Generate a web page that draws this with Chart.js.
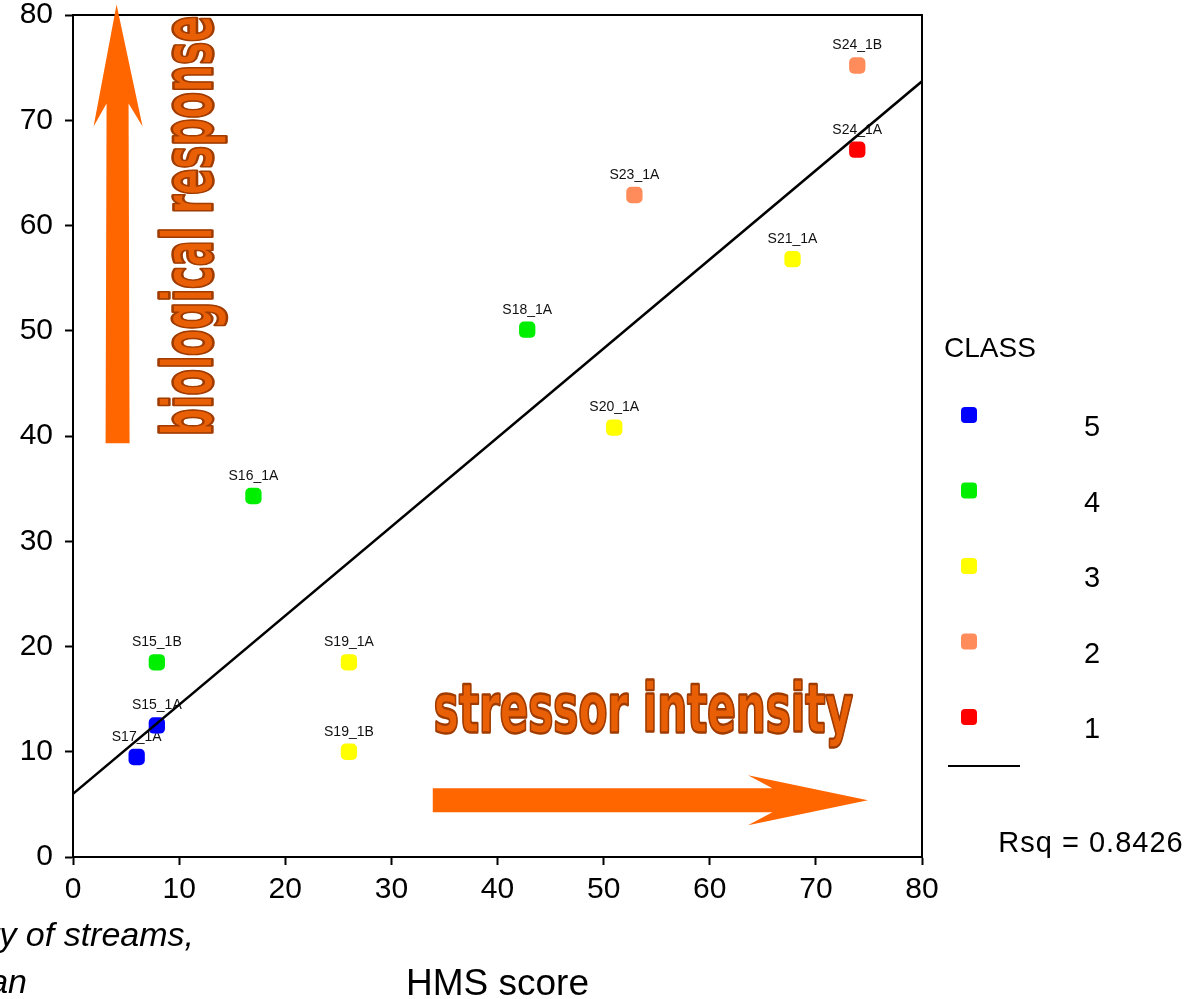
<!DOCTYPE html>
<html>
<head>
<meta charset="utf-8">
<script src="https://cdn.jsdelivr.net/npm/chart.js@4"></script>
<style>
  html, body { margin: 0; padding: 0; background: #fff; }
  #wrap { position: relative; width: 1198px; height: 999px; }
</style>
</head>
<body>
<div id="wrap"><canvas id="chart" width="1198" height="999"></canvas></div>
<script>
const FONT = '"Liberation Sans", Arial, sans-serif';

// Sites: HMS score vs biological response, grouped by CLASS
const siteNames = ['S17_1A', 'S15_1A', 'S15_1B', 'S16_1A', 'S19_1A', 'S19_1B', 'S18_1A', 'S20_1A', 'S23_1A', 'S21_1A', 'S24_1B', 'S24_1A'];
const hmsScore  = [6, 7.9, 7.9, 17, 26, 26, 42.8, 51, 52.9, 67.8, 73.9, 73.9];
const bioValue  = [9.5, 12.5, 18.5, 34.3, 18.5, 10, 50.1, 40.8, 62.9, 56.8, 75.2, 67.2];
const siteClass = [5, 5, 4, 4, 3, 3, 4, 3, 2, 3, 2, 1];

const classes = [5, 4, 3, 2, 1];
const classColors = ['#0000ff', '#00ee00', '#ffff00', '#ff8c5a', '#ff0000'];

// fitted line endpoints
const fitX = [0, 80];
const fitY = [6.0, 73.7];
const rsq = '0.8426';

const xTicks = [0, 10, 20, 30, 40, 50, 60, 70, 80];
const yTicks = [0, 10, 20, 30, 40, 50, 60, 70, 80];

const datasets = classes.map((c, k) => ({
  type: 'scatter',
  label: String(c),
  order: 1,
  data: siteNames
    .map((n, i) => ({ x: hmsScore[i], y: bioValue[i], name: n, c: siteClass[i] }))
    .filter(p => p.c === c),
  backgroundColor: classColors[k],
  borderWidth: 0,
  pointStyle: 'rectRounded',
  pointRadius: 9.5,
  pointHoverRadius: 9.5
}));

datasets.push({
  type: 'line',
  label: 'fit',
  order: 0,
  data: fitX.map((x, i) => ({ x: x, y: fitY[i] })),
  borderColor: '#000',
  borderWidth: 2.5,
  pointRadius: 0,
  fill: false
});

// labels above the points
const pointLabels = {
  id: 'pointLabels',
  beforeDatasetsDraw(chart) {
    const ctx = chart.ctx;
    ctx.save();
    ctx.font = '14px ' + FONT;
    ctx.fillStyle = '#111';
    ctx.textAlign = 'center';
    ctx.textBaseline = 'middle';
    chart.data.datasets.forEach((ds, di) => {
      if (ds.type !== 'scatter') return;
      chart.getDatasetMeta(di).data.forEach((pt, i) => {
        ctx.fillText(ds.data[i].name, pt.x, pt.y - 20);
      });
    });
    ctx.restore();
  }
};

function drawWordArt(ctx, text, x, y, width, xHeight, angle) {
  ctx.save();
  ctx.translate(x, y);
  ctx.rotate(angle);
  ctx.font = 'bold 100px "DejaVu Sans", ' + FONT;
  const w = ctx.measureText(text).width;
  const sx = width / w;
  const sy = xHeight / 54.7;
  ctx.scale(sx, sy);
  const k = 1 / Math.sqrt(sx * sy);
  ctx.lineJoin = 'round';
  ctx.strokeStyle = '#a03c00';
  ctx.lineWidth = 2.6 * k;
  ctx.strokeText(text, 0, 0);
  ctx.fillStyle = '#e85f05';
  ctx.fillText(text, 0, 0);
  ctx.lineWidth = 1.2 * k;
  ctx.strokeText(text, 0, 0);
  ctx.restore();
}

// decorations: box, arrows, legend, captions
const extras = {
  id: 'extras',
  afterDraw(chart) {
    const ctx = chart.ctx;
    const a = chart.chartArea;
    const xs = chart.scales.x, ys = chart.scales.y;
    ctx.save();

    // top and right frame lines
    ctx.strokeStyle = '#000';
    ctx.lineWidth = 2;
    ctx.beginPath();
    ctx.moveTo(a.left, a.top);
    ctx.lineTo(a.right, a.top);
    ctx.lineTo(a.right, a.bottom);
    ctx.stroke();

    // vertical arrow
    ctx.fillStyle = '#ff6600';
    const vx = xs.getPixelForValue(4.2);
    const vBot = ys.getPixelForValue(39.3);
    const vTip = ys.getPixelForValue(81);
    const vBarb = ys.getPixelForValue(69.4);
    const vJoin = ys.getPixelForValue(71.6);
    ctx.beginPath();
    ctx.moveTo(vx - 12, vBot);
    ctx.lineTo(vx + 12, vBot);
    ctx.lineTo(vx + 11, vJoin);
    ctx.lineTo(vx + 25, vBarb);
    ctx.lineTo(vx - 1, vTip);
    ctx.lineTo(vx - 24, vBarb);
    ctx.lineTo(vx - 11, vJoin);
    ctx.closePath();
    ctx.fill();

    // horizontal arrow
    const hy = ys.getPixelForValue(5.4);
    const hStart = xs.getPixelForValue(33.9);
    const hTip = xs.getPixelForValue(74.9);
    const hBarb = xs.getPixelForValue(63.6);
    const hJoin = xs.getPixelForValue(65.9);
    ctx.beginPath();
    ctx.moveTo(hStart, hy - 12);
    ctx.lineTo(hJoin, hy - 12);
    ctx.lineTo(hBarb, hy - 25);
    ctx.lineTo(hTip, hy);
    ctx.lineTo(hBarb, hy + 25);
    ctx.lineTo(hJoin, hy + 12);
    ctx.lineTo(hStart, hy + 12);
    ctx.closePath();
    ctx.fill();

    drawWordArt(ctx, 'stressor intensity', xs.getPixelForValue(34), ys.getPixelForValue(11.9), 419, 37, 0);
    drawWordArt(ctx, 'biological response', xs.getPixelForValue(13.1), ys.getPixelForValue(40.0), 420, 38, -Math.PI / 2);

    // legend
    ctx.fillStyle = '#000';
    ctx.font = '28px ' + FONT;
    ctx.textAlign = 'left';
    ctx.textBaseline = 'middle';
    ctx.fillText('CLASS', 944, 349);
    ctx.font = '29px ' + FONT;
    ctx.textAlign = 'center';
    classes.forEach((c, k) => {
      const y = 415 + k * 75.5;
      ctx.fillStyle = classColors[k];
      ctx.beginPath();
      ctx.roundRect(961, y - 8, 16, 16, 4);
      ctx.fill();
      ctx.fillStyle = '#000';
      ctx.fillText(String(c), 1092, y + 13);
    });
    ctx.strokeStyle = '#000';
    ctx.lineWidth = 2;
    ctx.beginPath();
    ctx.moveTo(948, 766);
    ctx.lineTo(1020, 766);
    ctx.stroke();
    ctx.font = '29px ' + FONT;
    ctx.letterSpacing = '1px';
    ctx.fillText('Rsq = ' + rsq, 1091, 844);

    // clipped caption in the corner
    ctx.font = 'italic 34px ' + FONT;
    ctx.letterSpacing = '0px';
    ctx.textAlign = 'right';
    ctx.fillText('Biological integrity of streams,', 194, 937);
    ctx.fillText('Michigan', 27, 984);

    ctx.restore();
  }
};

new Chart(document.getElementById('chart'), {
  data: { datasets: datasets },
  options: {
    responsive: false,
    animation: false,
    layout: { padding: { top: 15, right: 276, left: 0, bottom: 0 } },
    plugins: {
      legend: { display: false },
      tooltip: { enabled: false }
    },
    scales: {
      x: {
        type: 'linear',
        min: 0,
        max: 80,
        afterBuildTicks: s => { s.ticks = xTicks.map(v => ({ value: v })); },
        afterFit: s => { s.height = 142; s.paddingLeft = 0; s.paddingRight = 0; },
        ticks: { font: { size: 30, family: FONT }, color: '#000', padding: 7 },
        grid: { drawOnChartArea: false, tickLength: 8, tickWidth: 2, tickColor: '#000' },
        border: { color: '#000', width: 2 },
        title: { display: true, text: 'HMS score', color: '#000', font: { size: 37, family: FONT }, padding: { top: 0, bottom: -8 } }
      },
      y: {
        type: 'linear',
        min: 0,
        max: 80,
        afterBuildTicks: s => { s.ticks = yTicks.map(v => ({ value: v })); },
        afterFit: s => { s.width = 73; s.paddingTop = 0; s.paddingBottom = 0; },
        ticks: { font: { size: 30, family: FONT }, color: '#000', padding: 12 },
        grid: { drawOnChartArea: false, tickLength: 8, tickWidth: 2, tickColor: '#000' },
        border: { color: '#000', width: 2 }
      }
    }
  },
  plugins: [pointLabels, extras]
});
</script>
</body>
</html>
